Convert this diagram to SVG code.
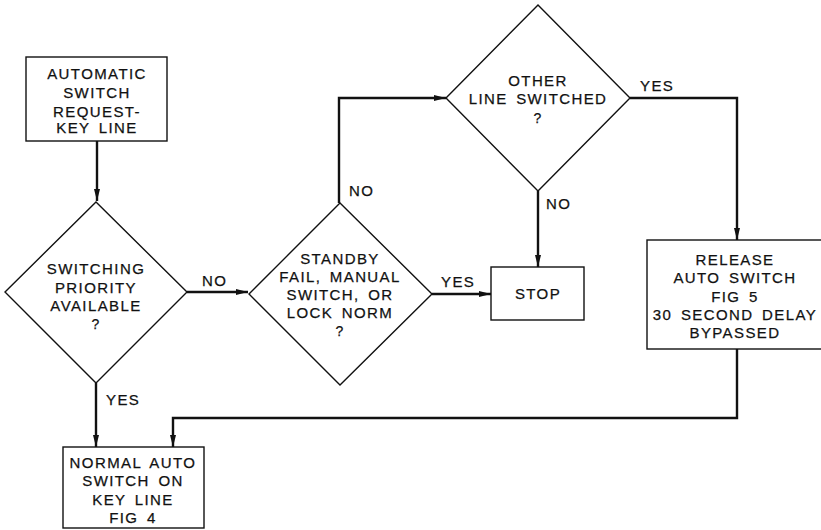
<svg xmlns="http://www.w3.org/2000/svg" width="821" height="530" viewBox="0 0 821 530">
<defs>
<marker id="arr" viewBox="0 0 12 6" refX="12" refY="3" markerWidth="12" markerHeight="6" markerUnits="userSpaceOnUse" orient="auto">
<path d="M0,0 L12,3 L0,6 Z" fill="#111"/>
</marker>
<style>
.shape{fill:#fff;stroke:#111;stroke-width:1.4}
.conn{fill:none;stroke:#111;stroke-width:2.4}
text{font-family:"Liberation Sans",Arial,Helvetica,sans-serif;font-size:15px;fill:#111;stroke:#111;stroke-width:0.25;letter-spacing:1.4px;word-spacing:3px;text-anchor:middle}
.lbl{text-anchor:start}
.q{font-size:14px}
</style>
</defs>
<rect width="821" height="530" fill="#fff"/>
<g id="connectors">
<path class="conn" d="M97,141 V201" marker-end="url(#arr)"/>
<path class="conn" d="M187,292 H248" marker-end="url(#arr)"/>
<path class="conn" d="M339,203 V98 H446" marker-end="url(#arr)"/>
<path class="conn" d="M432,294 H491" marker-end="url(#arr)"/>
<path class="conn" d="M538,191 V267" marker-end="url(#arr)"/>
<path class="conn" d="M630,98 H737 V240" marker-end="url(#arr)"/>
<path class="conn" d="M96,383 V447" marker-end="url(#arr)"/>
<path class="conn" d="M737,349 V418 H173 V447" marker-end="url(#arr)"/>
<text class="lbl" x="202" y="286">NO</text>
<text class="lbl" x="349" y="196">NO</text>
<text class="lbl" x="546" y="209">NO</text>
<text class="lbl" x="441" y="287">YES</text>
<text class="lbl" x="640" y="91">YES</text>
<text class="lbl" x="106" y="405">YES</text>
</g>
<g id="n1">
<rect class="shape" x="26" y="57" width="141" height="84"/>
<text x="97" y="79">AUTOMATIC</text>
<text x="97" y="98">SWITCH</text>
<text x="97" y="117">REQUEST-</text>
<text x="97" y="133">KEY LINE</text>
</g>
<g id="n2">
<path class="shape" d="M96,202 L187,292 L96,383 L5,292 Z"/>
<text x="96" y="274">SWITCHING</text>
<text x="96" y="293">PRIORITY</text>
<text x="96" y="311">AVAILABLE</text>
<text x="96" y="329" class="q">?</text>
</g>
<g id="n3">
<path class="shape" d="M340,203 L432,294 L340,385 L249,294 Z"/>
<text x="340" y="264">STANDBY</text>
<text x="340" y="282">FAIL, MANUAL</text>
<text x="340" y="300">SWITCH, OR</text>
<text x="340" y="318">LOCK NORM</text>
<text x="340" y="336" class="q">?</text>
</g>
<g id="n4">
<path class="shape" d="M538,5 L630,98 L538,191 L446,98 Z"/>
<text x="538" y="86">OTHER</text>
<text x="538" y="104">LINE SWITCHED</text>
<text x="538" y="123" class="q">?</text>
</g>
<g id="n5">
<rect class="shape" x="491" y="267" width="93" height="53"/>
<text x="538" y="299">STOP</text>
</g>
<g id="n6">
<rect class="shape" x="647" y="240" width="176" height="109"/>
<text x="735" y="265">RELEASE</text>
<text x="735" y="283">AUTO SWITCH</text>
<text x="735" y="302">FIG 5</text>
<text x="735" y="320">30 SECOND DELAY</text>
<text x="735" y="338">BYPASSED</text>
</g>
<g id="n7">
<rect class="shape" x="63" y="447" width="141" height="81"/>
<text x="133" y="468">NORMAL AUTO</text>
<text x="133" y="486">SWITCH ON</text>
<text x="133" y="505">KEY LINE</text>
<text x="133" y="523">FIG 4</text>
</g>
</svg>
